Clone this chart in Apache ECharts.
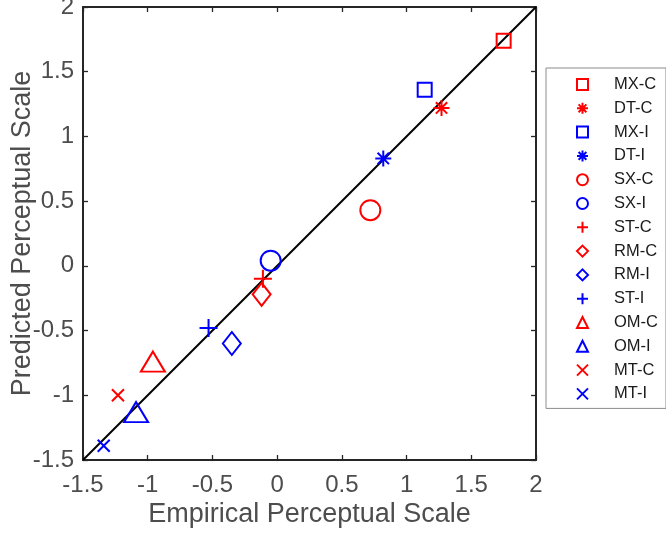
<!DOCTYPE html>
<html>
<head>
<meta charset="utf-8">
<script src="https://cdn.jsdelivr.net/npm/echarts@6/dist/echarts.min.js"></script>
<style>html,body{margin:0;padding:0;background:#fff}#c{width:666px;height:536px}</style>
</head>
<body>
<div id="c"></div>
<script>
// ---- data ----
const seriesNames = ['MX-C','DT-C','MX-I','DT-I','SX-C','SX-I','ST-C','RM-C','RM-I','ST-I','OM-C','OM-I','MT-C','MT-I'];
const empirical = [1.75, 1.27, 1.14, 0.82, 0.72, -0.05, -0.11, -0.12, -0.35, -0.53, -0.96, -1.09, -1.23, -1.34];
const predicted = [1.74, 1.22, 1.36, 0.83, 0.43, 0.04, -0.10, -0.22, -0.60, -0.48, -0.74, -1.13, -1.00, -1.39];
const identityLine = [[-1.5, -1.5], [2, 2]];
const axisTicks = [-1.5, -1, -0.5, 0, 0.5, 1, 1.5, 2];

// ---- styles ----
const RED = '#ff0000', BLUE = '#0000ff';
const PLUS = 'path://M0,5L10,5M5,0L5,10';
const CROSS = 'path://M0,0L10,10M10,0L0,10';
const STAR = 'path://M5,0L5,10M0,5L10,5M1.46,1.46L8.54,8.54M8.54,1.46L1.46,8.54';
const markerStyle = {
  'MX-C': {symbol: 'rect', size: 14, color: RED},
  'DT-C': {symbol: STAR, size: 16, color: RED},
  'MX-I': {symbol: 'rect', size: 14, color: BLUE},
  'DT-I': {symbol: STAR, size: 16, color: BLUE},
  'SX-C': {symbol: 'circle', size: 20, color: RED},
  'SX-I': {symbol: 'circle', size: 20, color: BLUE},
  'ST-C': {symbol: PLUS, size: 18, color: RED},
  'RM-C': {symbol: 'diamond', size: [18, 23], color: RED},
  'RM-I': {symbol: 'diamond', size: [18, 23], color: BLUE},
  'ST-I': {symbol: PLUS, size: 18, color: BLUE},
  'OM-C': {symbol: 'triangle', size: [24, 20], color: RED},
  'OM-I': {symbol: 'triangle', size: [24, 20], color: BLUE},
  'MT-C': {symbol: CROSS, size: 12, color: RED},
  'MT-I': {symbol: CROSS, size: 12, color: BLUE}
};

const FONT = 'Liberation Sans, Arial, Helvetica, sans-serif';
const AXC = '#262626';
const LABC = '#4d4d4d';

const series = [{
  name: 'identity', type: 'line', data: identityLine, symbol: 'none', silent: true,
  lineStyle: {color: '#000', width: 2}, z: 1, xAxisIndex: 0, yAxisIndex: 0
}];
seriesNames.forEach((n, i) => {
  const m = markerStyle[n];
  series.push({
    name: n, type: 'scatter', data: [[empirical[i], predicted[i]]],
    symbol: m.symbol, symbolSize: m.size, z: 3,
    itemStyle: {color: 'rgba(0,0,0,0)', borderColor: m.color, borderWidth: 2, opacity: 1},
    emphasis: {disabled: true}
  });
});

function mkAxis(pos, isX, show) {
  return {
    type: 'value', min: axisTicks[0], max: axisTicks[axisTicks.length - 1], interval: 0.5,
    position: pos,
    axisLine: {show: true, onZero: false, lineStyle: {color: AXC, width: 2}},
    axisTick: {show: true, inside: true, length: 5, lineStyle: {color: AXC, width: 1.3}},
    axisLabel: {show: show, color: LABC, fontSize: 24, fontFamily: FONT, margin: isX ? 13 : 9},
    splitLine: {show: false}
  };
}
const xMain = Object.assign(mkAxis('bottom', true, true), {
  name: 'Empirical Perceptual Scale', nameLocation: 'middle', nameGap: 41, nameMoveOverlap: false,
  nameTextStyle: {color: LABC, fontSize: 27, fontFamily: FONT}
});
const yMain = Object.assign(mkAxis('left', false, true), {
  name: 'Predicted Perceptual Scale', nameLocation: 'middle', nameGap: 47, nameMoveOverlap: false,
  nameTextStyle: {color: LABC, fontSize: 27, fontFamily: FONT}
});

const chart = echarts.init(document.getElementById('c'), null, {renderer: 'canvas'});
chart.setOption({
  animation: false,
  backgroundColor: '#fff',
  grid: {left: 83, top: 7, width: 453, height: 453, containLabel: false, outerBoundsMode: 'none'},
  xAxis: [xMain, mkAxis('top', true, false)],
  yAxis: [yMain, mkAxis('right', false, false)],
  legend: {
    data: seriesNames, orient: 'vertical', left: 546, top: 68,
    padding: [8, 8, 6, 30], itemGap: 6.8, itemWidth: 11, itemHeight: 11,
    backgroundColor: '#fff', borderColor: '#8c8c8c', borderWidth: 1,
    selectedMode: false,
    textStyle: {color: '#1a1a1a', fontSize: 16.5, fontFamily: FONT, lineHeight: 17, padding: [0, 0, 0, 21]}
  },
  series: series
});
</script>
</body>
</html>
